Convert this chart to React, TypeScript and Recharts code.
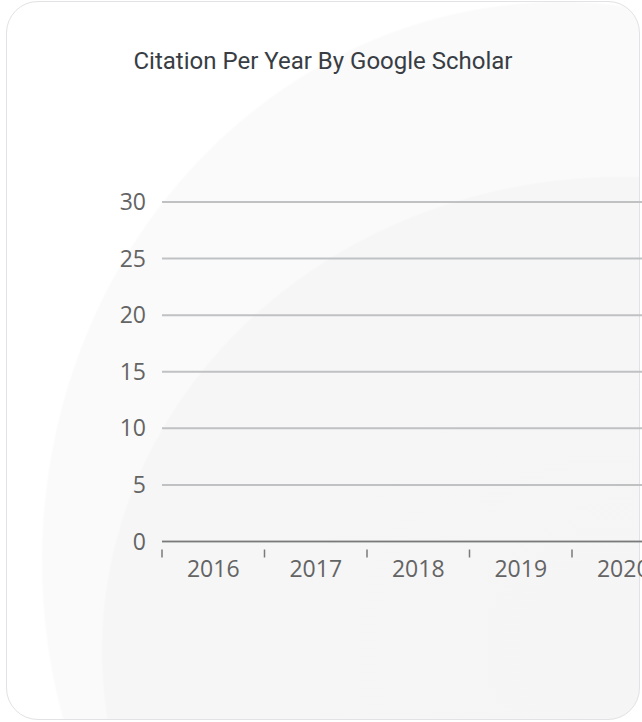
import React from 'react';
import { BarChart, Bar, XAxis, YAxis, CartesianGrid } from 'recharts';

const years = ['2016', '2017', '2018', '2019', '2020'];
const citations = [0, 0, 0, 0, 0];
const yTicks = [0, 5, 10, 15, 20, 25, 30];
const title = 'Citation Per Year By Google Scholar';

const data = years.map((year, i) => ({ year, citations: citations[i] }));

const LABEL_COLOR = '#646464';
const AXIS_COLOR = '#7a7a7a';

const XTick = (props: any) => {
  const { x, y, payload } = props;
  const off = payload && payload.offset ? payload.offset : 0;
  return (
    <g>
      <line x1={x - off} y1={y} x2={x - off} y2={y + 8} stroke={AXIS_COLOR} strokeWidth={1.5} />
      <text
        x={x}
        y={y + 27}
        textAnchor="middle"
        fill={LABEL_COLOR}
        fontSize={23}
        fontFamily="'Open Sans', sans-serif"
      >
        {payload.value}
      </text>
    </g>
  );
};

const YTick = (props: any) => {
  const { y, payload } = props;
  return (
    <text
      x={146}
      y={y}
      dy={8}
      textAnchor="end"
      fill={LABEL_COLOR}
      fontSize={23}
      fontFamily="'Open Sans', sans-serif"
    >
      {payload.value}
    </text>
  );
};

export default function App() {
  return (
    <div
      style={{
        position: 'absolute',
        left: 0,
        top: 0,
        width: 642,
        height: 722,
        overflow: 'hidden',
        background: '#ffffff',
      }}
    >
      <div
        style={{
          position: 'absolute',
          left: 6,
          top: 1,
          width: 634,
          height: 719,
          boxSizing: 'border-box',
          border: '1px solid #e2e2e4',
          borderRadius: 32,
          background:
            'radial-gradient(ellipse 520px 475px at 614px 649px, #f5f5f6 0%, #f6f6f7 70%, #f6f6f7 99.6%, rgba(255,255,255,0) 100%), radial-gradient(ellipse 520px 560px at 554px 559px, #fafafa 0%, #fafafa 99.6%, rgba(255,255,255,0) 100%), #ffffff',
        }}
      />
      <div
        style={{
          position: 'absolute',
          left: 6,
          top: 43,
          width: 634,
          textAlign: 'center',
          fontFamily: 'Roboto, sans-serif',
          fontSize: 24,
          lineHeight: '36px',
          color: '#383d44',
        }}
      >
        {title}
      </div>
      <div style={{ position: 'absolute', left: 0, top: 0 }}>
        <BarChart
          width={700}
          height={722}
          data={data}
          margin={{ top: 202, right: 25.5, bottom: 120.5, left: 0 }}
        >
          <CartesianGrid horizontal vertical={false} stroke="#c0c1c3" strokeWidth={2} />
          <XAxis
            dataKey="year"
            height={60}
            axisLine={{ stroke: AXIS_COLOR, strokeWidth: 1.5 }}
            tickLine={false}
            tick={<XTick />}
            interval={0}
          />
          <YAxis
            width={162}
            domain={[0, 30]}
            ticks={yTicks}
            axisLine={false}
            tickLine={false}
            tick={<YTick />}
            interval={0}
          />
          <Bar dataKey="citations" fill="#4a90d9" isAnimationActive={false} />
        </BarChart>
      </div>
    </div>
  );
}
